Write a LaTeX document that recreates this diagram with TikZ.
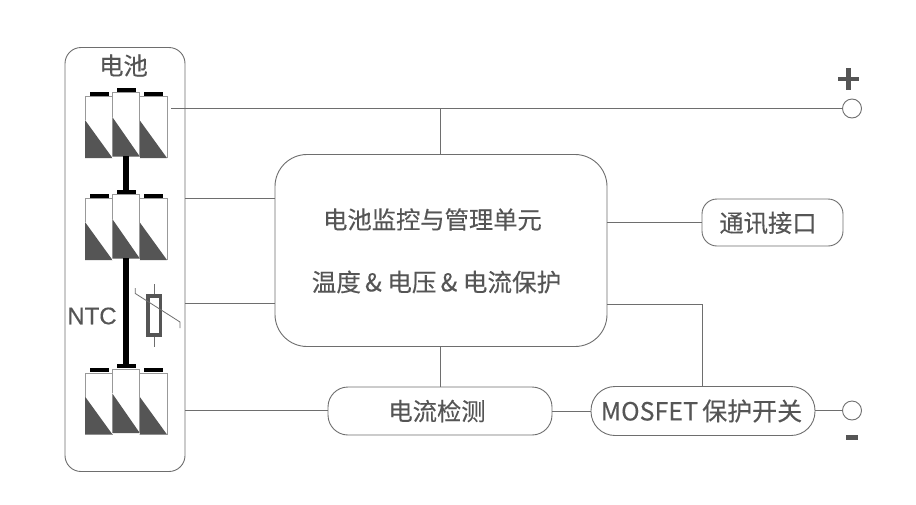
\documentclass[tikz,border=0pt]{standalone}
\usepackage{fontspec}
\setmainfont{Liberation Sans}
\newfontfamily\cjk[FakeBold=0.25]{Noto Sans CJK SC}
\newfontfamily\latinb[FakeBold=0.25]{Liberation Sans}
\definecolor{ink}{HTML}{555555}
\definecolor{edge}{HTML}{6E6E6E}
\newcommand{\batcell}[3]{% x left, y top, y bottom
  \fill[white] ({#1-0.6},{(#2)-0.5}) rectangle ({#1+28.1},{(#3)+1});
  \fill[ink] (#1,{(#2)+((#3)-(#2))*0.38}) -- ({#1+27.5},{#3}) -- (#1,{#3}) -- cycle;
  \draw[cellline] (#1,{(#2)+((#3)-(#2))*0.38}) -- (#1,{#2}) -- ({#1+27.5},{#2}) -- ({#1+27.5},{#3});
  \fill[black] ({#1+4.5},{(#2)-5}) rectangle ({#1+23.5},{(#2)-1});
}
\newcommand{\batgroup}[1]{%
  \batcell{85}{96.7+#1}{158+#1}
  \batcell{139.5}{96.7+#1}{158+#1}
  \batcell{112.3}{92.7+#1}{156.5+#1}
}
\tikzset{
  conn/.style={draw=edge,line width=0.8pt},
  cellline/.style={draw=gray!80,line width=1pt},
  box/.style={draw=edge,line width=0.9pt,fill=white,rounded corners=#1,inner sep=0pt,outer sep=0pt},
  box/.default=20pt,
  lab/.style={text=ink,font=\cjk\fontsize{24.3}{28}\selectfont,inner sep=0pt},
  term/.style={circle,draw=edge,fill=white,line width=0.9pt,minimum size=19pt,inner sep=0pt,outer sep=0pt},
}
\begin{document}
\begin{tikzpicture}[x=1pt,y=-1pt]
\useasboundingbox (0,0) rectangle (916,504);
% battery frame
\node[box=16pt,minimum width=120pt,minimum height=424pt,anchor=north west] (pack) at (65,47.5) {};
\node[lab] (packlabel) at (123.5,65.5) {电池};
\coordinate (t1) at (171,108.5);
\coordinate (t2) at (185,198.5);
\coordinate (t3) at (185,303);
\coordinate (t4) at (185,410);
% main blocks
\node[box=32pt,minimum width=332pt,minimum height=192pt,anchor=north west] (bms) at (275,154.5) {};
\node[lab] (bms1) at (432.5,219.5) {电池监控与管理单元};
\node[lab,font=\cjk\fontsize{24.6}{28}\selectfont] (bms2) at (436.5,282) {温度\,\&\ 电压\,\&\ 电流保护};
\node[box=15pt,minimum width=141pt,minimum height=47pt,anchor=north west] (com) at (702,199) {};
\node[lab] (comt) at (768,223) {通讯接口};
\node[box=20pt,minimum width=224pt,minimum height=48pt,anchor=north west] (cur) at (328,387) {};
\node[lab] (curt) at (437,411) {电流检测};
\node[box=24pt,minimum width=224pt,minimum height=49pt,anchor=north west] (mos) at (591,386.5) {};
\node[lab,font=\cjk\fontsize{25}{28}\selectfont] (most) at (701.5,411) {MOSFET\,保护开关};
\node[term] (plus) at (852,108.5) {};
\node[term] (minus) at (852,410.5) {};
\fill[ink] (838,76.5) rectangle (859,81);
\fill[ink] (846.3,68) rectangle (850.7,89.5);
\fill[ink] (846,435) rectangle (858,440);
% connectors
\coordinate (j1) at (440,108.5);
\draw[conn] (t1) -- (plus);
\draw[conn] (j1) -- (j1 |- bms.north);
\draw[conn] (t2) -- (t2 -| bms.west);
\draw[conn] (t3) -- (t3 -| bms.west);
\draw[conn] (t4) -- (cur.west |- t4);
\draw[conn] (440,346.5) -- (440,387);
\draw[conn] (cur.east |- 0,411) -- (mos.west |- 0,411);
\draw[conn] (mos.east |- minus) -- (minus);
\draw[conn] (607,222.5) -- (702,222.5);
\draw[conn] (607,304) -- (702,304) -- (702,386.5);
% batteries
\batgroup{0}
\batgroup{102}
\batgroup{276.5}
\fill[black] (123.2,156) rectangle (129.2,192);
\fill[black] (123.2,258) rectangle (129.2,367);
% NTC
\node[text=ink,font=\latinb\fontsize{24}{28}\selectfont,inner sep=0pt] (ntc) at (92,316) {NTC};
\draw[edge,line width=0.8pt] (154,284) -- (154,347);
\draw[ink,line width=3.5pt,fill=white] (148,296) rectangle (160.5,335);
\draw[edge,line width=0.8pt] (135.3,288) -- (135.3,293.5) -- (180,322) -- (180,328);
\end{tikzpicture}
\end{document}
